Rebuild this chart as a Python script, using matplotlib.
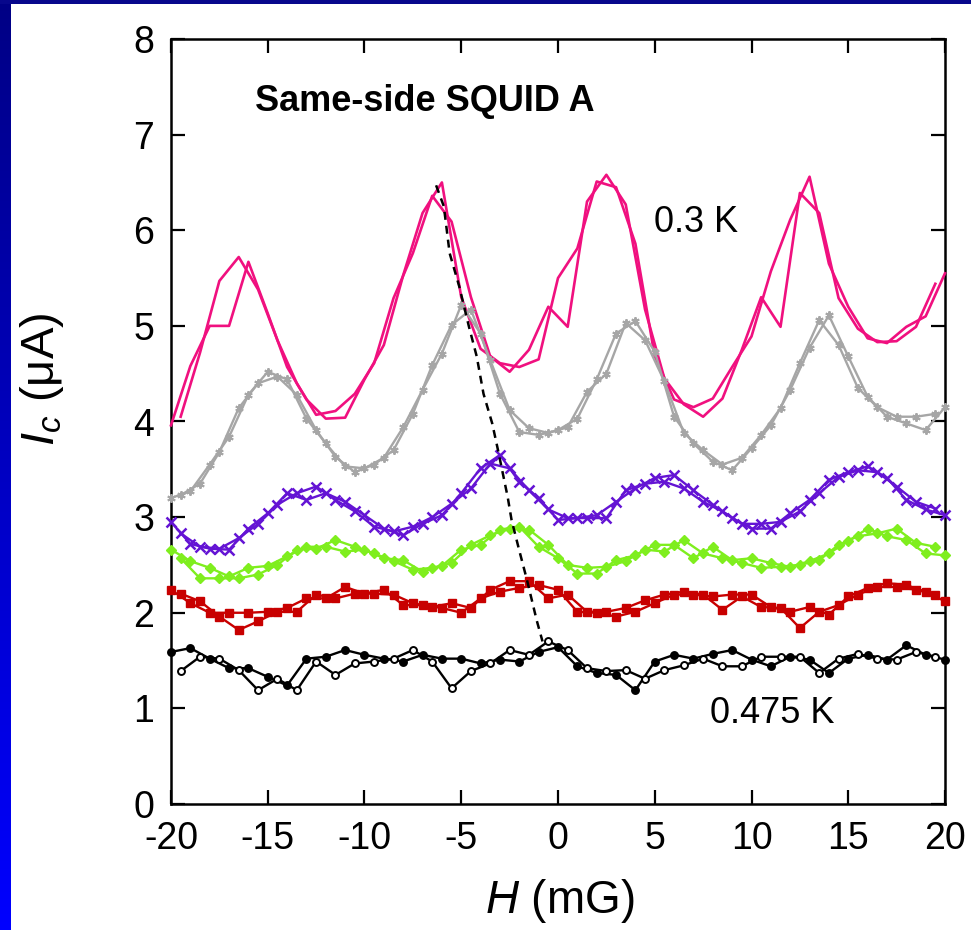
import numpy as np
import matplotlib.pyplot as plt

plt.rcParams['font.family'] = ['Liberation Sans', 'DejaVu Sans']
plt.rcParams['mathtext.fontset'] = 'custom'
plt.rcParams['mathtext.rm'] = 'Liberation Sans'
plt.rcParams['mathtext.it'] = 'Liberation Sans:italic'
plt.rcParams['axes.unicode_minus'] = False

# field values of the two sweeps (up sweep on whole mG, down sweep on half mG)
h_up = np.arange(-20, 20.5, 1.0)
h_down = np.arange(-19.5, 20.0, 1.0)

# critical current (uA), 0.3 K
pink_up = [3.96, 4.58, 5.00, 5.00, 5.67, 5.13, 4.57, 4.23, 4.03, 4.04, 4.44,
           4.80, 5.53, 6.18, 6.50, 5.30, 4.76, 4.61, 4.57, 4.65, 5.50,
           5.81, 6.51, 6.45, 5.86, 4.68, 4.23, 4.15, 4.24, 4.57, 4.89,
           5.57, 6.11, 6.56, 5.65, 5.20, 4.87, 4.82, 4.99, 5.10, 5.55]
pink_down = [4.05, 4.72, 5.47, 5.72, 5.38, 4.85, 4.40, 4.07, 4.11, 4.29,
             4.61, 5.29, 5.76, 6.36, 6.09, 5.30, 4.68, 4.52, 4.75, 5.20,
             4.99, 6.30, 6.58, 6.27, 5.17, 4.45, 4.18, 4.05, 4.24, 4.75,
             5.30, 4.99, 6.39, 6.18, 5.29, 4.97, 4.83, 4.84, 4.99, 5.44]

gray_up = [3.20, 3.27, 3.55, 3.84, 4.28, 4.52, 4.44, 4.03, 3.77, 3.53, 3.51,
           3.62, 3.94, 4.33, 4.71, 5.22, 4.92, 4.29, 3.89, 3.86, 3.91,
           4.03, 4.44, 4.92, 5.05, 4.73, 4.05, 3.77, 3.58, 3.49, 3.72,
           3.96, 4.33, 4.77, 5.11, 4.68, 4.26, 4.05, 3.98, 3.91, 4.15]
gray_down = [3.23, 3.35, 3.68, 4.14, 4.40, 4.47, 4.28, 3.91, 3.63, 3.47,
             3.55, 3.70, 4.08, 4.59, 5.01, 5.17, 4.64, 4.12, 3.93, 3.88,
             3.94, 4.31, 4.50, 5.03, 4.85, 4.42, 3.88, 3.70, 3.55, 3.62,
             3.86, 4.14, 4.61, 5.06, 4.80, 4.35, 4.15, 4.05, 4.05, 4.08]

purple_up = [2.95, 2.72, 2.67, 2.66, 2.88, 3.04, 3.25, 3.18, 3.25, 3.16, 3.02,
             2.88, 2.81, 2.93, 3.02, 3.25, 3.51, 3.65, 3.37, 3.20, 2.97,
             2.99, 3.02, 3.16, 3.30, 3.41, 3.44, 3.28, 3.13, 2.99, 2.88,
             2.88, 3.04, 3.18, 3.39, 3.47, 3.53, 3.41, 3.18, 3.08, 3.02]
purple_down = [2.83, 2.69, 2.67, 2.78, 2.93, 3.13, 3.25, 3.32, 3.18, 3.06,
               2.90, 2.85, 2.90, 3.00, 3.14, 3.30, 3.56, 3.51, 3.28, 3.08,
               2.99, 2.99, 2.99, 3.28, 3.35, 3.37, 3.30, 3.16, 3.06, 2.93,
               2.93, 2.95, 3.06, 3.25, 3.42, 3.49, 3.47, 3.32, 3.16, 3.09]

green_up = [2.66, 2.54, 2.47, 2.38, 2.47, 2.49, 2.59, 2.69, 2.69, 2.64, 2.66,
            2.57, 2.55, 2.43, 2.49, 2.66, 2.71, 2.87, 2.90, 2.69, 2.57,
            2.41, 2.41, 2.55, 2.60, 2.71, 2.71, 2.57, 2.69, 2.55, 2.57,
            2.52, 2.48, 2.54, 2.62, 2.75, 2.88, 2.80, 2.76, 2.62, 2.60]
green_down = [2.57, 2.36, 2.36, 2.36, 2.40, 2.50, 2.66, 2.67, 2.76, 2.69,
              2.62, 2.54, 2.45, 2.47, 2.52, 2.71, 2.81, 2.88, 2.87, 2.71,
              2.50, 2.47, 2.48, 2.54, 2.66, 2.64, 2.76, 2.62, 2.57, 2.52,
              2.47, 2.48, 2.50, 2.55, 2.71, 2.80, 2.83, 2.88, 2.73, 2.69]

red_up = [2.24, 2.10, 2.00, 2.00, 2.00, 2.01, 2.05, 2.15, 2.15, 2.27, 2.20,
          2.24, 2.08, 2.08, 2.05, 2.00, 2.15, 2.22, 2.26, 2.29, 2.24,
          2.01, 2.00, 1.96, 2.01, 2.10, 2.19, 2.19, 2.17, 2.19, 2.19,
          2.06, 2.01, 2.06, 1.98, 2.17, 2.26, 2.31, 2.29, 2.22, 2.12]
red_down = [2.20, 2.12, 1.96, 1.82, 1.91, 2.01, 2.01, 2.19, 2.15, 2.20,
            2.20, 2.19, 2.10, 2.06, 2.10, 2.05, 2.24, 2.33, 2.33, 2.15,
            2.19, 2.01, 2.01, 2.05, 2.13, 2.19, 2.22, 2.19, 2.03, 2.17,
            2.06, 2.05, 1.84, 2.01, 2.08, 2.19, 2.27, 2.27, 2.24, 2.19]

# 0.475 K
black_up = [1.59, 1.63, 1.52, 1.42, 1.42, 1.33, 1.24, 1.52, 1.54, 1.61, 1.56,
            1.52, 1.49, 1.56, 1.52, 1.52, 1.47, 1.51, 1.49, 1.59, 1.64,
            1.44, 1.37, 1.35, 1.19, 1.49, 1.56, 1.52, 1.57, 1.61, 1.51,
            1.44, 1.54, 1.51, 1.37, 1.52, 1.56, 1.51, 1.66, 1.56, 1.51]
black_down = [1.39, 1.54, 1.52, 1.40, 1.19, 1.31, 1.19, 1.49, 1.35, 1.47,
              1.49, 1.52, 1.61, 1.49, 1.21, 1.39, 1.47, 1.61, 1.56, 1.70,
              1.61, 1.42, 1.39, 1.40, 1.31, 1.40, 1.45, 1.52, 1.44, 1.44,
              1.54, 1.54, 1.54, 1.37, 1.52, 1.57, 1.52, 1.51, 1.59, 1.54]

# shift of the central maximum with temperature
shift_h = [-6.3, -5.9, -5.6, -5.1, -4.6, -4.2, -3.85, -3.4, -3.1, -2.6,
           -2.4, -2.0, -1.6, -1.1, -0.8]
shift_i = [6.47, 6.25, 5.76, 5.41, 4.99, 4.68, 4.29, 3.98, 3.70, 3.21,
           2.97, 2.65, 2.34, 1.92, 1.70]

series = [
    (pink_up, pink_down, '#F0107F', dict(marker=None), 1.9),
    (gray_up, gray_down, '#A6A6A6', dict(marker=(6, 2, 0), ms=6, mew=1.4), 1.7),
    (purple_up, purple_down, '#6414D4', dict(marker='x', ms=7, mew=1.8), 1.7),
    (green_up, green_down, '#7FEE1E', dict(marker='D', ms=5), 1.7),
    (red_up, red_down, '#C80000', dict(marker='s', ms=5.5), 1.7),
]

W, H = 971, 930
fig = plt.figure(figsize=(W / 100, H / 100), dpi=100)

# slide background: blue frame on the left and top edges
bg = np.ones((H, W, 3))
shade = np.linspace(0.52, 1.0, H)
bg[:, :11, 0] = 0
bg[:, :11, 1] = 0
bg[:, :11, 2] = shade[:, None]
bg[:4, :, :2] = 0.03
bg[:4, :, 2] = 0.55
fig.figimage(bg, xo=0, yo=0, origin='upper', zorder=-5)

ax = fig.add_axes([171 / W, 1 - 804 / H, (945 - 171) / W, (804 - 39) / H])
ax.set_facecolor('white')

for up, down, color, mk, lw in series:
    for hh, vals in ((h_up, up), (h_down, down)):
        ax.plot(hh, vals, color=color, lw=lw, mfc=color, mec=color,
                clip_on=False, zorder=3, **mk)

ax.plot(h_up, black_up, color='black', lw=1.7, marker='o', ms=5,
        mfc='black', mec='black', mew=1.4, clip_on=False, zorder=3)
ax.plot(h_down, black_down, color='black', lw=1.7, marker='o', ms=5,
        mfc='white', mec='black', mew=1.4, clip_on=False, zorder=3)

ax.plot(shift_h, shift_i, color='black', lw=1.8, ls=(0, (3.2, 2.4)), zorder=4)

ax.set_xlim(-20, 20)
ax.set_ylim(0, 8)
ax.set_xticks(range(-20, 21, 5))
ax.set_yticks(range(0, 9))
ax.tick_params(direction='in', length=10, width=1.6, top=True, right=True,
               labelsize=27, pad=12)
for sp in ax.spines.values():
    sp.set_linewidth(1.8)

ax.text(-15.66, 7.25, 'Same-side SQUID A', fontsize=26, fontweight='bold',
        ha='left', va='baseline')
ax.text(4.95, 5.98, '0.3 K', fontsize=26, ha='left', va='baseline')
ax.text(7.86, 0.85, '0.475 K', fontsize=26, ha='left', va='baseline')

fig.text(560 / W, 1 - 901 / H, r'$H$ (mG)', fontsize=33, ha='center', va='center')
fig.text(42 / W, 1 - 379 / H, r'$I_c$ (μA)', fontsize=34, rotation=90,
         ha='center', va='center')

fig.savefig('out.png', dpi=100)
